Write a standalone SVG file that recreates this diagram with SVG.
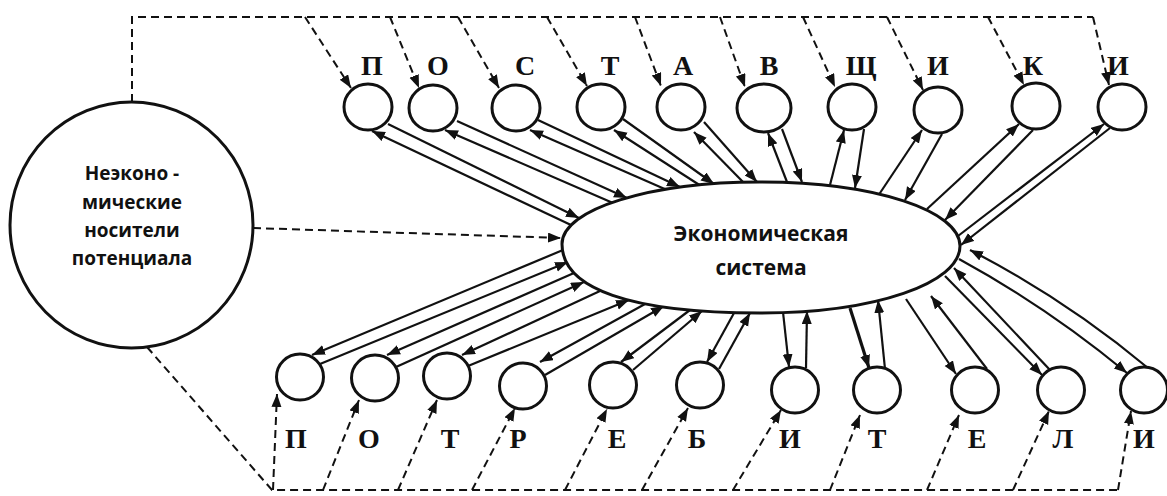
<svg xmlns="http://www.w3.org/2000/svg" width="1167" height="496" viewBox="0 0 1167 496">
<style>
  .node { fill: #fff; stroke: #111; stroke-width: 3; }
  .let { font-family: "Liberation Serif", "Times New Roman", serif; font-weight: bold; font-size: 28px; fill: #111; text-anchor: middle; }
  .txt { font-family: "Open Sans", "Liberation Sans", sans-serif; font-weight: bold; fill: #111; text-anchor: middle; }
  .ln { fill: none; stroke: #111; stroke-width: 2.2; marker-end: url(#ah); }
  .bold { stroke-width: 3.2; }
  .dash { fill: none; stroke: #111; stroke-width: 2; stroke-dasharray: 8 5; }
  .darr { marker-end: url(#dh); }
</style>
<defs>
  <marker id="ah" markerUnits="userSpaceOnUse" markerWidth="14" markerHeight="11" viewBox="0 0 14 11" refX="13" refY="5" orient="auto">
    <path d="M0,0 L13,5 L0,10 z" fill="#111"/>
  </marker>
  <marker id="dh" markerUnits="userSpaceOnUse" markerWidth="14" markerHeight="11" viewBox="0 0 14 11" refX="13" refY="5" orient="auto">
    <path d="M0,0 L13,5 L0,10 z" fill="#111"/>
  </marker>
</defs>
<rect x="0" y="0" width="1167" height="496" fill="#fff"/>

<g id="connectors">
  <!-- dashed frame -->
  <path class="dash" d="M132,102 L132,17 L1093,17"/>
  <path class="dash" d="M147,347 L272,490 L1118,490"/>
  <path class="dash darr" d="M253,228 L561,238"/>
  <!-- top dashed arrows -->
  <path class="dash darr" d="M305,17 L351,88"/>
  <path class="dash darr" d="M390,17 L419,88"/>
  <path class="dash darr" d="M458,17 L499,88"/>
  <path class="dash darr" d="M547,17 L587,86"/>
  <path class="dash darr" d="M635,17 L661,86"/>
  <path class="dash darr" d="M720,17 L745,87"/>
  <path class="dash darr" d="M803,17 L835,87"/>
  <path class="dash darr" d="M887,17 L923,90"/>
  <path class="dash darr" d="M988,17 L1024,85"/>
  <path class="dash darr" d="M1093,17 L1109,85"/>
  <!-- bottom dashed arrows -->
  <path class="dash darr" d="M273,490 L277,394"/>
  <path class="dash darr" d="M323,490 L359,400"/>
  <path class="dash darr" d="M398,490 L437,400"/>
  <path class="dash darr" d="M472,490 L515,408"/>
  <path class="dash darr" d="M565,490 L607,409"/>
  <path class="dash darr" d="M642,490 L688,408"/>
  <path class="dash darr" d="M733,490 L781,410"/>
  <path class="dash darr" d="M830,490 L860,415"/>
  <path class="dash darr" d="M927,490 L959,415"/>
  <path class="dash darr" d="M1013,490 L1049,411"/>
  <path class="dash darr" d="M1118,490 L1131,411"/>

  <!-- top pairs -->
  <path class="ln" d="M388,124 L579,218"/>
  <path class="ln" d="M571,225 L372,131"/>
  <path class="ln" d="M457,121 L627,198"/>
  <path class="ln" d="M613,203 L445,130"/>
  <path class="ln" d="M538,120 L680,187"/>
  <path class="ln" d="M667,190 L530,130"/>
  <path class="ln" d="M623,119 L714,184"/>
  <path class="ln" d="M701,186 L614,130"/>
  <path class="ln" d="M704,122 L757,182"/>
  <path class="ln" d="M744,183 L694,132"/>
  <path class="ln" d="M782,129 L802,182"/>
  <path class="ln" d="M787,182 L768,133"/>
  <path class="ln" d="M864,129 L855,188"/>
  <path class="ln" d="M830,185 L844,130"/>
  <path class="ln" d="M942,134 L905,200"/>
  <path class="ln" d="M878,196 L922,130"/>
  <path class="ln" d="M1033,130 L945,220"/>
  <path class="ln" d="M927,209 L1019,124"/>
  <path class="ln" d="M1110,128 L961,245"/>
  <path class="ln" d="M958,236 L1104,124"/>

  <!-- bottom pairs -->
  <path class="ln" d="M320,364 L568,262"/>
  <path class="ln" d="M563,250 L312,355"/>
  <path class="ln" d="M396,367 L584,282"/>
  <path class="ln" d="M574,273 L387,355"/>
  <path class="ln" d="M468,366 L629,300"/>
  <path class="ln" d="M600,291 L462,355"/>
  <path class="ln" d="M545,375 L664,306"/>
  <path class="ln" d="M645,304 L540,362"/>
  <path class="ln" d="M633,370 L702,311"/>
  <path class="ln" d="M690,310 L621,362"/>
  <path class="ln" d="M719,369 L750,313"/>
  <path class="ln" d="M734,313 L707,362"/>
  <path class="ln" d="M783,312 L789,367"/>
  <path class="ln" d="M806,368 L807,311"/>
  <path class="ln bold" d="M850,308 L869,368"/>
  <path class="ln" d="M885,369 L878,300"/>
  <path class="ln" d="M906,299 L956,374"/>
  <path class="ln" d="M987,369 L931,296"/>
  <path class="ln" d="M945,276 L1042,375"/>
  <path class="ln" d="M1050,370 L954,268"/>
  <path class="ln" d="M959,259 Q1047,307 1127,373"/>
  <path class="ln" d="M1148,368 Q1065,299 970,250"/>
</g>

<g id="node-noneconomic">
  <ellipse class="node" cx="131.5" cy="225" rx="121.5" ry="123"/>
  <text class="txt" font-size="19" x="132" y="180">Неэконо -</text>
  <text class="txt" font-size="19" x="132" y="209">мические</text>
  <text class="txt" font-size="19" x="132" y="237">носители</text>
  <text class="txt" font-size="19" x="132" y="265">потенциала</text>
</g>

<g id="node-economic">
  <path class="node" d="M562,244 C562,209 651,182 760,182 C876,182 960,211 960,246 C960,283 876,313 760,313 C631,313 562,289 562,244 Z"/>
  <text class="txt" font-size="21" x="761" y="241">Экономическая</text>
  <text class="txt" font-size="21" x="761" y="275">система</text>
</g>

<g id="top-1"><ellipse class="node" cx="368" cy="107" rx="24" ry="23"/><text class="let" x="372" y="75">П</text></g>
<g id="top-2"><ellipse class="node" cx="433" cy="108" rx="24" ry="23"/><text class="let" x="438" y="75">О</text></g>
<g id="top-3"><ellipse class="node" cx="516" cy="108" rx="24" ry="23"/><text class="let" x="525" y="75">С</text></g>
<g id="top-4"><ellipse class="node" cx="601" cy="107" rx="24" ry="23"/><text class="let" x="610" y="75">Т</text></g>
<g id="top-5"><ellipse class="node" cx="681" cy="107" rx="24" ry="23"/><text class="let" x="683" y="75">А</text></g>
<g id="top-6"><ellipse class="node" cx="764" cy="108" rx="27" ry="24"/><text class="let" x="769" y="75">В</text></g>
<g id="top-7"><ellipse class="node" cx="852" cy="107" rx="24" ry="23"/><text class="let" x="861" y="75">Щ</text></g>
<g id="top-8"><ellipse class="node" cx="938" cy="110" rx="24" ry="23"/><text class="let" x="938" y="75">И</text></g>
<g id="top-9"><ellipse class="node" cx="1036" cy="106" rx="24" ry="23"/><text class="let" x="1033" y="75">К</text></g>
<g id="top-10"><ellipse class="node" cx="1122" cy="107" rx="24" ry="23"/><text class="let" x="1118" y="75">И</text></g>

<g id="bottom-1"><ellipse class="node" cx="300" cy="377" rx="23.5" ry="23"/><text class="let" x="296" y="448">П</text></g>
<g id="bottom-2"><ellipse class="node" cx="375" cy="378" rx="23.5" ry="23"/><text class="let" x="369" y="448">О</text></g>
<g id="bottom-3"><ellipse class="node" cx="447" cy="376" rx="23.5" ry="23"/><text class="let" x="450" y="448">Т</text></g>
<g id="bottom-4"><ellipse class="node" cx="523" cy="386" rx="23.5" ry="23"/><text class="let" x="518" y="448">Р</text></g>
<g id="bottom-5"><ellipse class="node" cx="613" cy="385" rx="23.5" ry="23"/><text class="let" x="617" y="448">Е</text></g>
<g id="bottom-6"><ellipse class="node" cx="700" cy="385" rx="23.5" ry="23"/><text class="let" x="697" y="448">Б</text></g>
<g id="bottom-7"><ellipse class="node" cx="795" cy="390" rx="23.5" ry="23"/><text class="let" x="790" y="448">И</text></g>
<g id="bottom-8"><ellipse class="node" cx="877" cy="390" rx="23.5" ry="23"/><text class="let" x="877" y="448">Т</text></g>
<g id="bottom-9"><ellipse class="node" cx="975" cy="390" rx="23.5" ry="23"/><text class="let" x="977" y="448">Е</text></g>
<g id="bottom-10"><ellipse class="node" cx="1061" cy="390" rx="23.5" ry="23"/><text class="let" x="1063" y="448">Л</text></g>
<g id="bottom-11"><ellipse class="node" cx="1144" cy="390" rx="23.5" ry="23"/><text class="let" x="1144" y="448">И</text></g>
</svg>
